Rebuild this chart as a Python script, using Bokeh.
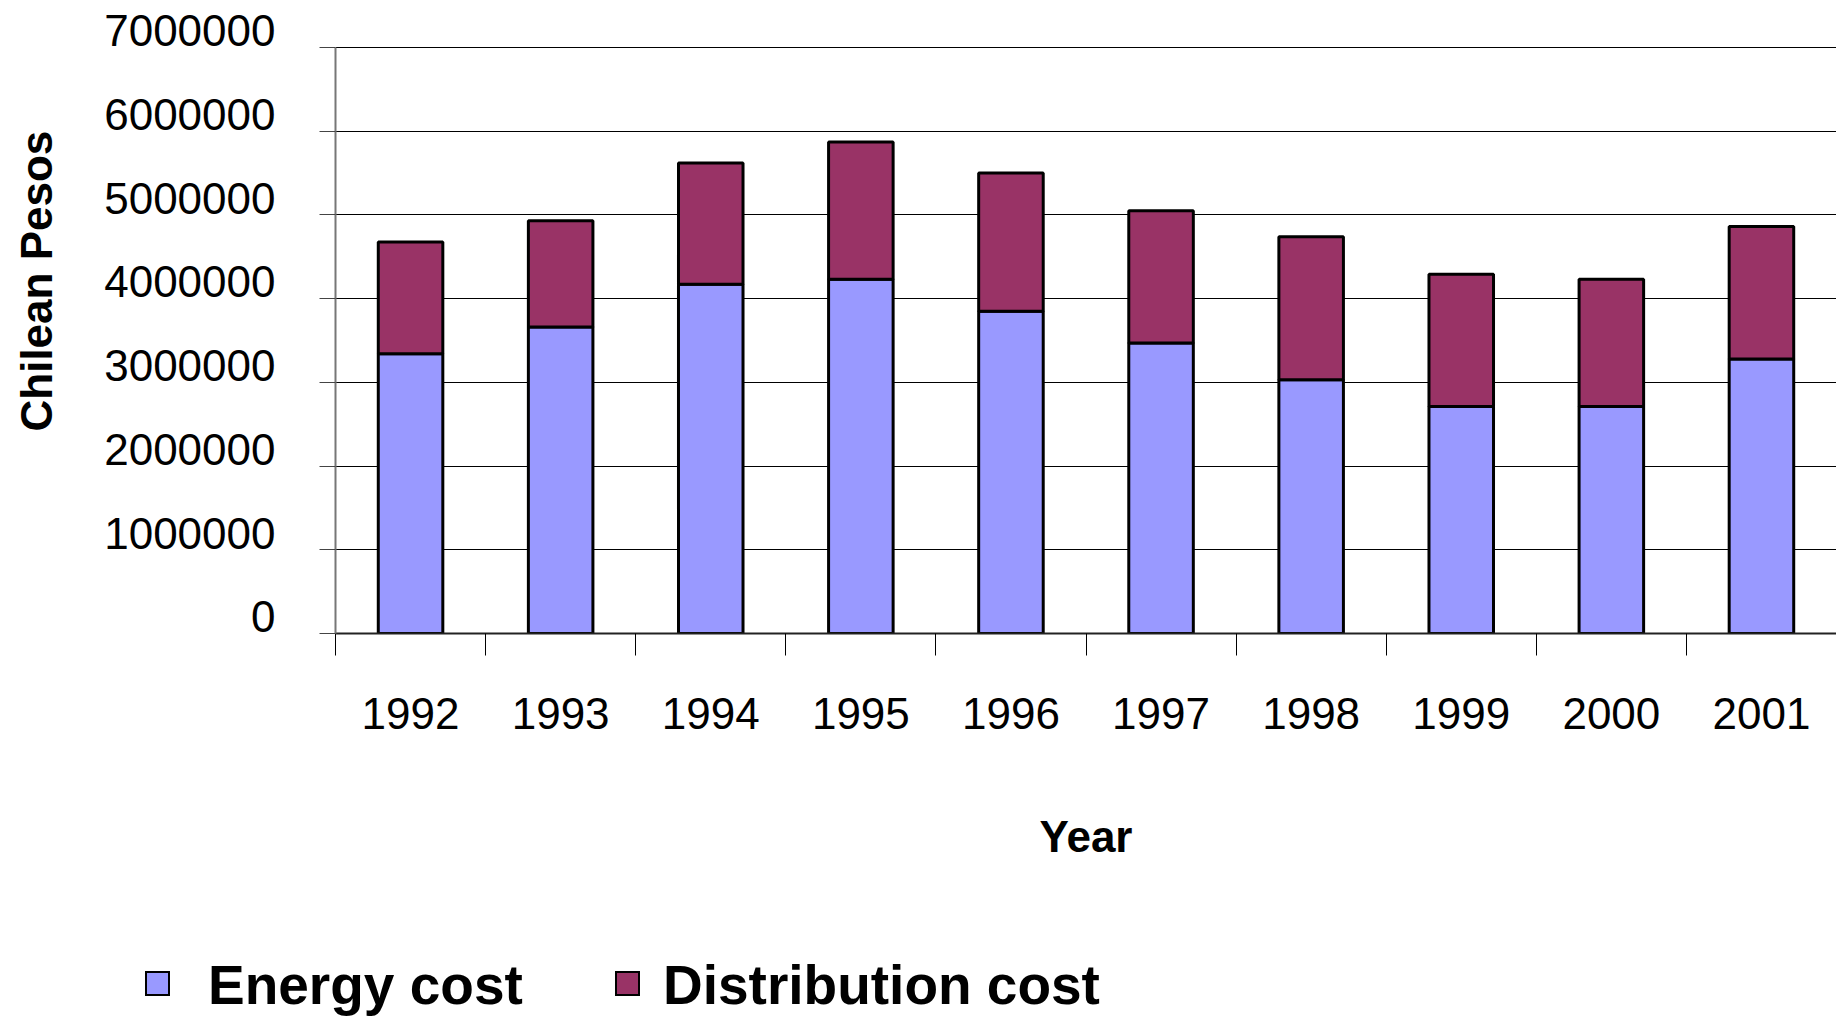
from bokeh.plotting import figure
from bokeh.models import (ColumnDataSource, FixedTicker, Range1d, Div)
from bokeh.layouts import column
from bokeh.embed import file_html
from bokeh.resources import INLINE

years = ["1992", "1993", "1994", "1995", "1996", "1997", "1998", "1999", "2000", "2001"]
energy_cost = [3340000, 3660000, 4170000, 4230000, 3850000, 3470000, 3030000, 2710000, 2710000, 3280000]
distribution_cost = [1335000, 1270000, 1450000, 1640000, 1650000, 1580000, 1710000, 1580000, 1520000, 1580000]
y_ticks = [0, 1000000, 2000000, 3000000, 4000000, 5000000, 6000000, 7000000]
y_labels = ["0", "1000000", "2000000", "3000000", "4000000", "5000000", "6000000", "7000000"]
series_names = ["Energy cost", "Distribution cost"]
series_colors = ["#9999FF", "#993366"]

xpos = [i + 0.5 for i in range(len(years))]
src = ColumnDataSource(dict(x=xpos, energy=energy_cost, distribution=distribution_cost))

FONT = "Liberation Sans"
LABEL_SHIFT = 200000  # labels sit just above their gridlines

p = figure(width=1836, height=928, output_backend="svg", toolbar_location=None,
           x_range=Range1d(0, len(years)), y_range=Range1d(0, 7250000),
           min_border_left=335, min_border_right=0, min_border_top=26, min_border_bottom=295)
p.outline_line_color = None
p.background_fill_color = "white"

r = p.vbar_stack(["energy", "distribution"], x="x", width=0.43, source=src,
                 color=series_colors, line_color="black", line_width=3)

# x axis: labels at the centres, tick marks at category boundaries
p.xaxis.ticker = FixedTicker(ticks=xpos, minor_ticks=list(range(len(years) + 1)))
p.xaxis.major_label_overrides = {x: y for x, y in zip(xpos, years)}
p.xaxis.major_tick_out = 0
p.xaxis.major_tick_in = 0
p.xaxis.minor_tick_out = 22
p.xaxis.minor_tick_in = 0
p.xaxis.minor_tick_line_color = "black"
p.xaxis.axis_line_color = "#222222"
p.xaxis.axis_line_width = 2
p.xaxis.major_label_text_font = FONT
p.xaxis.major_label_text_font_size = "44px"
p.xaxis.major_label_text_color = "black"
p.xaxis.major_label_standoff = 42
p.xaxis.axis_label = "Year"
p.xaxis.axis_label_text_font = FONT
p.xaxis.axis_label_text_font_size = "44px"
p.xaxis.axis_label_text_font_style = "bold"
p.xaxis.axis_label_text_color = "black"
p.xaxis.axis_label_standoff = 80

# y axis: labels slightly above the gridlines, tick marks (minor) at the gridlines
lab_ticks = [v + LABEL_SHIFT for v in y_ticks]
p.yaxis.bounds = (0, 7000000)
p.yaxis.ticker = FixedTicker(ticks=lab_ticks, minor_ticks=y_ticks)
p.yaxis.major_label_overrides = {t: l for t, l in zip(lab_ticks, y_labels)}
p.yaxis.major_tick_line_color = None
p.yaxis.major_tick_out = 16
p.yaxis.major_tick_in = 0
p.yaxis.minor_tick_out = 16
p.yaxis.minor_tick_in = 0
p.yaxis.minor_tick_line_color = "#444444"
p.yaxis.axis_line_color = "#777777"
p.yaxis.axis_line_width = 2
p.yaxis.major_label_text_font = FONT
p.yaxis.major_label_text_font_size = "44px"
p.yaxis.major_label_text_color = "black"
p.yaxis.major_label_standoff = 44
p.yaxis.axis_label = "\u00a0" * 8 + "Chilean Pesos"
p.yaxis.axis_label_text_font = FONT
p.yaxis.axis_label_text_font_size = "44px"
p.yaxis.axis_label_text_font_style = "bold"
p.yaxis.axis_label_text_color = "black"
p.yaxis.axis_label_standoff = 40

p.xgrid.grid_line_color = None
p.ygrid.ticker = FixedTicker(ticks=y_ticks)
p.ygrid.grid_line_color = "black"
p.ygrid.grid_line_width = 1

# legend strip below the chart
swatch_left = [145, 615]
text_left = [208, 663]
parts = []
for name, col, sl, tl in zip(series_names, series_colors, swatch_left, text_left):
    parts.append(
        f'<span style="position:absolute;left:{sl}px;top:43px;width:25px;height:25px;'
        f'background:{col};border:2px solid black;"></span>'
        f'<span style="position:absolute;left:{tl}px;top:30px;line-height:55px;white-space:nowrap;">{name}</span>'
    )
html = (f'<div style="position:relative;width:1836px;height:90px;font-family:\'{FONT}\';'
        f'font-weight:bold;font-size:55px;color:black;">' + "".join(parts) + '</div>')
legend_div = Div(text=html, width=1836, height=90, margin=0)

layout = column(p, legend_div, spacing=0)
open("out.html", "w").write(file_html(layout, INLINE))
